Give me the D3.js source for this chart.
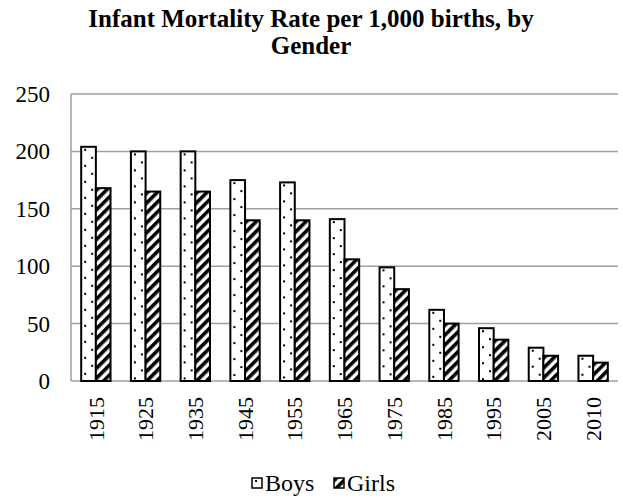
<!DOCTYPE html>
<head>
<meta charset="utf-8">
<script src="https://d3js.org/d3.v7.min.js"></script>
<style>
  body { margin: 0; background: #fff; }
  text { font-family: "Liberation Serif", "Times New Roman", serif; }
</style>
</head>
<body>
<svg width="623" height="500"></svg>
<script>
var years = ["1915", "1925", "1935", "1945", "1955", "1965", "1975", "1985", "1995", "2005", "2010"];
var boys  = [204, 200, 200, 175, 173, 141, 99, 62, 46, 29, 22];
var girls = [168, 165, 165, 140, 140, 106, 80, 50, 36, 22, 16];
var yTicks = [0, 50, 100, 150, 200, 250];
var seriesNames = ["Boys", "Girls"];

var svg = d3.select("svg"),
    plotLeft = 71, plotRight = 618, plotTop = 94, plotBottom = 381;

// patterns: sparse dots for boys, diagonal stripes for girls
var defs = svg.append("defs");
var dots = defs.append("pattern").attr("id", "dots").attr("patternUnits", "userSpaceOnUse")
  .attr("width", 15).attr("height", 16);
dots.append("rect").attr("width", 15).attr("height", 16).attr("fill", "#fff");
dots.append("rect").attr("x", 3).attr("y", 2).attr("width", 2).attr("height", 2).attr("fill", "#000");
dots.append("rect").attr("x", 10).attr("y", 10).attr("width", 2).attr("height", 2).attr("fill", "#000");

var stripes = defs.append("pattern").attr("id", "stripes").attr("patternUnits", "userSpaceOnUse")
  .attr("width", 7).attr("height", 7).attr("patternTransform", "rotate(45)");
stripes.append("rect").attr("width", 7).attr("height", 7).attr("fill", "#fff");
stripes.append("rect").attr("width", 3.6).attr("height", 7).attr("fill", "#000");

var fills = { Boys: "url(#dots)", Girls: "url(#stripes)" };

var x = d3.scaleBand().domain(years).range([plotLeft, plotRight]).paddingInner(0.41).paddingOuter(0.205);
var xs = d3.scaleBand().domain(seriesNames).range([0, x.bandwidth()]);
var y = d3.scaleLinear().domain([0, 250]).range([plotBottom, plotTop]);

// title
svg.append("text").attr("x", 311).attr("y", 27).attr("text-anchor", "middle")
  .attr("font-weight", "bold").attr("font-size", 25).text("Infant Mortality Rate per 1,000 births, by");
svg.append("text").attr("x", 311).attr("y", 54).attr("text-anchor", "middle")
  .attr("font-weight", "bold").attr("font-size", 25).text("Gender");

// gridlines
svg.append("g").selectAll("line").data(yTicks).enter().append("line")
  .attr("x1", plotLeft).attr("x2", plotRight)
  .attr("y1", function(d){ return y(d); }).attr("y2", function(d){ return y(d); })
  .attr("stroke", "#a0a0a0").attr("stroke-width", 1.5);
svg.append("line").attr("x1", plotLeft).attr("x2", plotLeft).attr("y1", plotTop).attr("y2", plotBottom)
  .attr("stroke", "#a0a0a0").attr("stroke-width", 1.5);

// y tick labels
svg.append("g").selectAll("text").data(yTicks).enter().append("text")
  .attr("x", 50).attr("y", function(d){ return y(d); }).attr("dy", "0.35em")
  .attr("text-anchor", "end").attr("font-size", 23).text(function(d){ return d; });

// bars (each bar in its own g so the pattern starts at the bar's left edge)
var rows = years.map(function(yr, i){ return { year: yr, Boys: boys[i], Girls: girls[i] }; });
var groups = svg.append("g").selectAll("g").data(rows).enter().append("g")
  .attr("transform", function(d){ return "translate(" + x(d.year) + ",0)"; });
groups.selectAll("g").data(function(d){ return seriesNames.map(function(k){ return { key: k, value: d[k] }; }); })
  .enter().append("g")
  .attr("transform", function(d){ return "translate(" + xs(d.key) + "," + y(d.value) + ")"; })
  .append("rect")
  .attr("width", xs.bandwidth())
  .attr("height", function(d){ return plotBottom - y(d.value); })
  .attr("fill", function(d){ return fills[d.key]; })
  .attr("stroke", "#000").attr("stroke-width", 2);

// x labels (rotated)
svg.append("g").selectAll("text").data(years).enter().append("text")
  .attr("transform", function(d){ return "translate(" + (x(d) + x.bandwidth() / 2) + ",397) rotate(-90)"; })
  .attr("text-anchor", "end").attr("dy", "0.35em").attr("font-size", 22).text(function(d){ return d; });

// legend
var legend = svg.append("g").selectAll("g").data(seriesNames).enter().append("g")
  .attr("transform", function(d, i){ return "translate(" + (252 + i * 82) + ",478)"; });
legend.append("rect").attr("width", 10).attr("height", 10)
  .attr("fill", function(d){ return fills[d]; }).attr("stroke", "#000").attr("stroke-width", 1.5);
legend.append("text").attr("x", 13).attr("y", 13).attr("font-size", 24).text(function(d){ return d; });
</script>
</body>
